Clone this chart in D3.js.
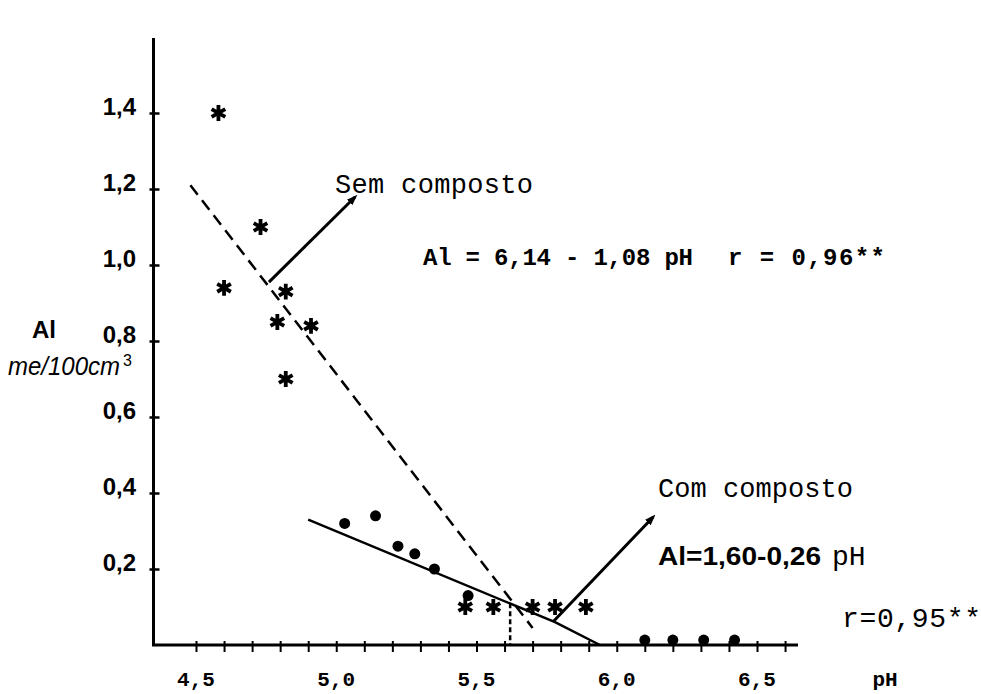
<!DOCTYPE html>
<html>
<head>
<meta charset="utf-8">
<script src="https://cdn.jsdelivr.net/npm/d3@7"></script>
<style>
  html, body { margin: 0; padding: 0; background: #fff; }
  svg { display: block; }
</style>
</head>
<body>
<div id="chart"></div>
<script>
// --- data ---
// "Sem composto" (stars)
var semPH = [4.58, 4.73, 4.60, 4.82, 4.79, 4.91, 4.82, 5.46, 5.56, 5.70, 5.78, 5.89];
var semAl = [1.40, 1.10, 0.94, 0.93, 0.85, 0.84, 0.70, 0.10, 0.10, 0.10, 0.10, 0.10];
// "Com composto" (dots)
var comPH = [5.03, 5.14, 5.22, 5.28, 5.35, 5.47, 6.10, 6.20, 6.31, 6.42];
var comAl = [0.32, 0.34, 0.26, 0.24, 0.20, 0.13, 0.013, 0.013, 0.013, 0.013];
// fitted lines as drawn
var semLinePH = [4.48, 5.70];
var semLineAl = [1.21, 0.045];
var comLinePH = [4.90, 5.78, 5.94];
var comLineAl = [0.33, 0.06, 0.0];
var markerPH = [5.62, 5.62];
var markerAl = [0.11, 0.0];
// axes
var xLabelValues = [4.5, 5.0, 5.5, 6.0, 6.5];
var xMinorTicks = [4.5, 4.6, 4.7, 4.8, 4.9, 5.0, 5.1, 5.2, 5.3, 5.4, 5.5, 5.6, 5.7,
                   5.8, 5.9, 6.0, 6.1, 6.2, 6.3, 6.4, 6.5, 6.6];
var yLabelValues = [0.2, 0.4, 0.6, 0.8, 1.0, 1.2, 1.4];

var width = 981, height = 694;
var mono = '"Liberation Mono", "Courier New", "DejaVu Sans Mono", monospace';
var hand = '"Liberation Sans", Arial, sans-serif';

var ptBR = d3.formatLocale({ decimal: ',', thousands: '.', grouping: [3], currency: ['', ''] });
var fmt = ptBR.format('.1f');

var x = d3.scaleLinear().domain([4.5, 6.5]).range([196, 757]);
var y = d3.scaleLinear().domain([0, 1.4]).range([645, 113]);

var svg = d3.select('#chart')
  .append('svg')
  .attr('width', width)
  .attr('height', height)
  .style('background', '#fff');

svg.append('defs')
  .append('marker')
  .attr('id', 'head')
  .attr('viewBox', '0 0 10 10')
  .attr('refX', 7)
  .attr('refY', 5)
  .attr('markerUnits', 'userSpaceOnUse')
  .attr('markerWidth', 11)
  .attr('markerHeight', 11)
  .attr('orient', 'auto')
  .append('path')
  .attr('d', 'M0,1.5 L10,5 L0,8.5 Z')
  .attr('fill', '#000');

// axis frame
svg.append('path')
  .attr('d', 'M153.5,38 V645 H798')
  .attr('fill', 'none')
  .attr('stroke', '#000')
  .attr('stroke-width', 3);

// x minor ticks
svg.append('g')
  .attr('transform', 'translate(0,645)')
  .call(d3.axisBottom(x).tickValues(xMinorTicks).tickSize(7).tickSizeOuter(0).tickFormat(''))
  .call(g => g.select('.domain').remove())
  .call(g => g.selectAll('.tick line')
    .attr('y1', -4)
    .attr('stroke', '#000')
    .attr('stroke-width', 2));

// x labels
svg.append('g')
  .selectAll('text')
  .data(xLabelValues)
  .enter()
  .append('text')
  .attr('x', d => x(d))
  .attr('y', 686)
  .attr('text-anchor', 'middle')
  .style('font-family', mono)
  .style('font-weight', 'bold')
  .style('font-size', '21px')
  .text(d => fmt(d));

svg.append('text')
  .attr('x', 885)
  .attr('y', 686)
  .attr('text-anchor', 'middle')
  .style('font-family', mono)
  .style('font-weight', 'bold')
  .style('font-size', '21px')
  .text('pH');

// y ticks + labels
svg.append('g')
  .attr('transform', 'translate(153.5,0)')
  .call(d3.axisRight(y).tickValues(yLabelValues).tickSize(6).tickSizeOuter(0).tickFormat(''))
  .call(g => g.select('.domain').remove())
  .call(g => g.selectAll('.tick line')
    .attr('x1', -4)
    .attr('stroke', '#000')
    .attr('stroke-width', 2.5));

svg.append('g')
  .selectAll('text')
  .data(yLabelValues)
  .enter()
  .append('text')
  .attr('x', 136)
  .attr('y', d => y(d) + 2)
  .attr('text-anchor', 'end')
  .style('font-family', hand)
  .style('font-weight', 'bold')
  .style('font-size', '24px')
  .text(d => fmt(d));

// y title
svg.append('text')
  .attr('x', 32)
  .attr('y', 338)
  .style('font-family', hand)
  .style('font-weight', 'bold')
  .style('font-size', '24px')
  .text('Al');
var unit = svg.append('text')
  .attr('x', 8)
  .attr('y', 375)
  .style('font-family', hand)
  .style('font-style', 'italic')
  .style('font-size', '25px');
unit.append('tspan')
  .attr('textLength', 112)
  .attr('lengthAdjust', 'spacingAndGlyphs')
  .text('me/100cm');
unit.append('tspan')
  .attr('dx', 3)
  .attr('dy', -9)
  .style('font-style', 'normal')
  .style('font-size', '16px')
  .text('3');

// lines
var line = d3.line().x(d => x(d[0])).y(d => y(d[1]));

svg.append('path')
  .datum(d3.zip(semLinePH, semLineAl))
  .attr('d', line)
  .attr('fill', 'none')
  .attr('stroke', '#000')
  .attr('stroke-width', 2.5)
  .attr('stroke-dasharray', '12,7');

svg.append('path')
  .datum(d3.zip(comLinePH, comLineAl))
  .attr('d', line)
  .attr('fill', 'none')
  .attr('stroke', '#000')
  .attr('stroke-width', 2.5);

svg.append('path')
  .datum(d3.zip(markerPH, markerAl))
  .attr('d', line)
  .attr('fill', 'none')
  .attr('stroke', '#000')
  .attr('stroke-width', 2.5)
  .attr('stroke-dasharray', '5,3');

// points
var star = d3.symbol().type(d3.symbolAsterisk).size(175);
svg.append('g')
  .selectAll('g')
  .data(d3.zip(semPH, semAl))
  .enter()
  .append('g')
  .attr('transform', d => 'translate(' + x(d[0]) + ',' + y(d[1]) + ')')
  .each(function () {
    d3.select(this).append('path')
      .attr('d', star)
      .attr('fill', 'none')
      .attr('stroke', '#000')
      .attr('stroke-width', 3.8);
    d3.select(this).append('circle')
      .attr('r', 3.5)
      .attr('fill', '#000');
  });

svg.append('g')
  .selectAll('circle')
  .data(d3.zip(comPH, comAl))
  .enter()
  .append('circle')
  .attr('cx', d => x(d[0]))
  .attr('cy', d => y(d[1]))
  .attr('r', 5.5)
  .attr('fill', '#000');

// arrows (pH, Al)
var arrows = [
  [[4.76, 0.955], [5.067, 1.179]],
  [[5.773, 0.061], [6.13, 0.337]]
];
svg.append('g')
  .selectAll('path')
  .data(arrows)
  .enter()
  .append('path')
  .attr('d', line)
  .attr('fill', 'none')
  .attr('stroke', '#000')
  .attr('stroke-width', 3)
  .attr('marker-end', 'url(#head)');

// annotations
function note(txt, px, py, size, opts) {
  opts = opts || {};
  var t = svg.append('text')
    .attr('x', px)
    .attr('y', py)
    .style('font-family', opts.family || mono)
    .style('font-size', size + 'px')
    .style('font-weight', opts.bold ? 'bold' : 'normal')
    .style('white-space', 'pre')
    .text(txt);
  if (opts.len) {
    t.attr('textLength', opts.len).attr('lengthAdjust', opts.adjust || 'spacing');
  }
  return t;
}

note('Sem composto', 335, 193, 27, { len: 198 });
note('Al = 6,14 - 1,08 pH', 423, 265, 24, { bold: true, len: 270 });
note('r = 0,96**', 728, 265, 24, { bold: true, len: 157 });
note('Com composto', 658, 497, 27, { len: 195 });
note('Al=1,60-0,26', 658, 565, 25, { family: hand, bold: true, len: 163, adjust: 'spacingAndGlyphs' });
note('pH', 832, 565, 28);
note('r=0,95**', 842, 627, 28, { len: 139 });
</script>
</body>
</html>
